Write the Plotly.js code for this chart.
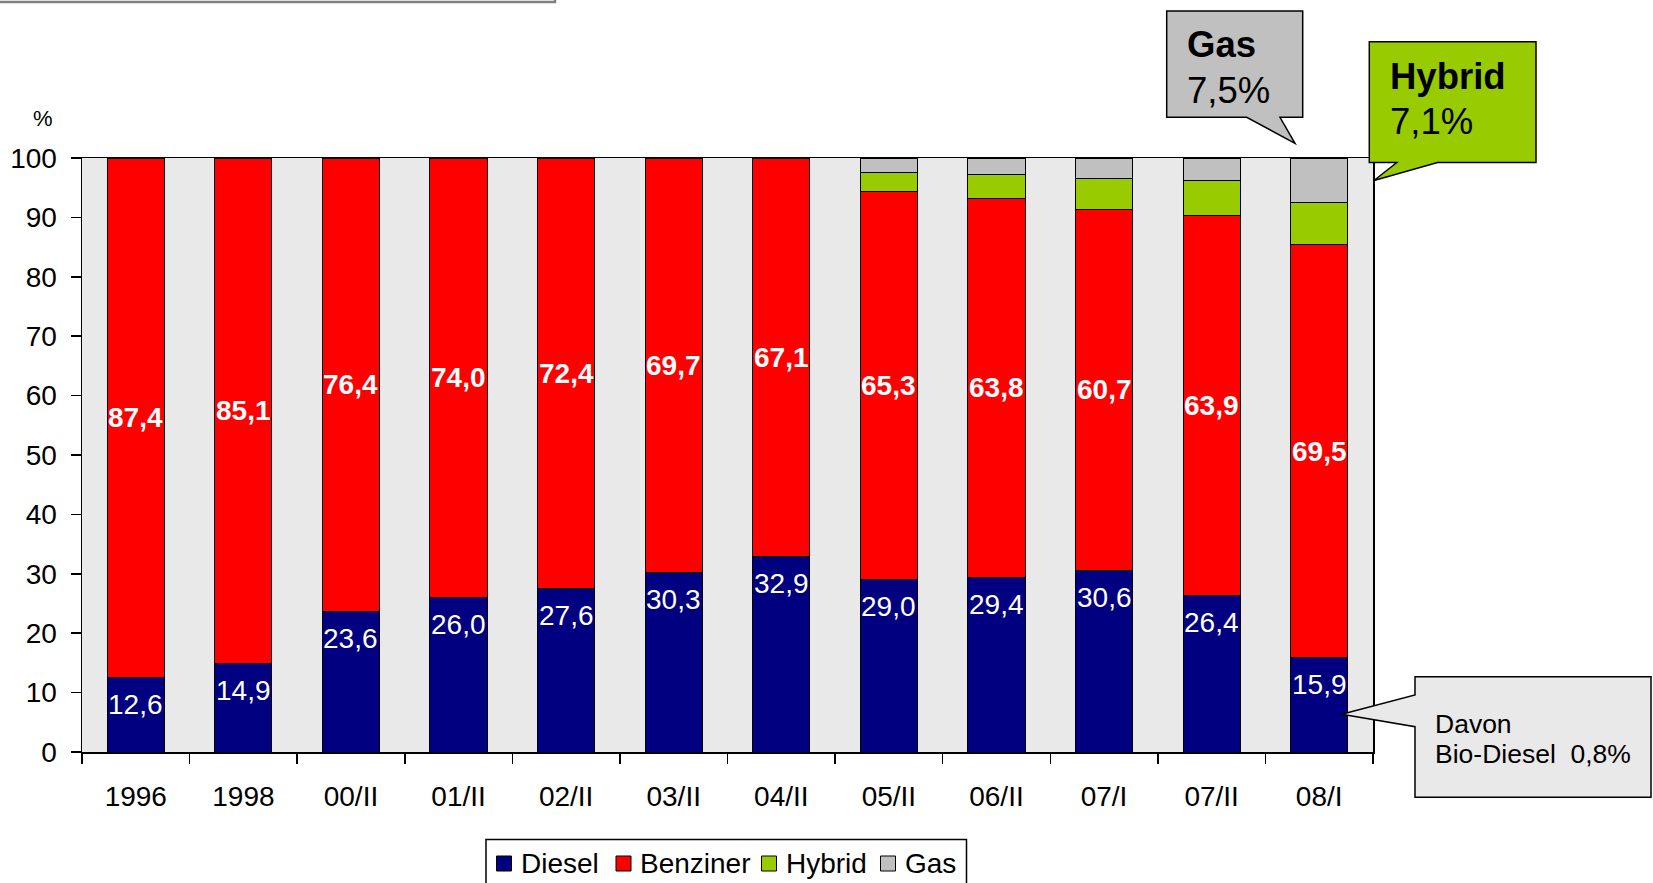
<!DOCTYPE html>
<html>
<head>
<meta charset="utf-8">
<script src="https://cdn.plot.ly/plotly-3.0.1.min.js"></script>
<style>
  html, body { margin: 0; padding: 0; background: #fff; }
  #chart { width: 1653px; height: 883px; }
</style>
</head>
<body>
<div id="chart"></div>
<script>
// ---- data ----
const categories = ['1996', '1998', '00/II', '01/II', '02/II', '03/II', '04/II', '05/II', '06/II', '07/I', '07/II', '08/I'];
const diesel   = [12.6, 14.9, 23.6, 26.0, 27.6, 30.3, 32.9, 29.0, 29.4, 30.6, 26.4, 15.9];
const benziner = [87.4, 85.1, 76.4, 74.0, 72.4, 69.7, 67.1, 65.3, 63.8, 60.7, 63.9, 69.5];
const hybrid   = [null, null, null, null, null, null, null, 3.2, 4.1, 5.3, 5.9, 7.1];
const gas      = [null, null, null, null, null, null, null, 2.5, 2.7, 3.4, 3.8, 7.5];
const seriesNames = ['Diesel', 'Benziner', 'Hybrid', 'Gas'];
const yTicks = [0, 10, 20, 30, 40, 50, 60, 70, 80, 90, 100];

const gasCallout = {title: 'Gas', value: '7,5%'};
const hybridCallout = {title: 'Hybrid', value: '7,1%'};
const bioCallout = {line1: 'Davon', line2: 'Bio-Diesel  0,8%'};

// ---- styling ----
const FONT = '"Liberation Sans", Arial, Helvetica, sans-serif';
const colors = ['#000080', '#ff0000', '#99cc00', '#c0c0c0'];
const W = 1653, H = 883;
const L = 82, R = 1373, T = 158, B = 752;
const px = x => (x - L) / (R - L);
const py = y => (B - y) / (B - T);
const fmt = v => v.toFixed(1).replace('.', ',');

const seriesData = [diesel, benziner, hybrid, gas];
const traces = seriesData.map((vals, i) => ({
  type: 'bar',
  name: seriesNames[i],
  x: categories,
  y: vals,
  marker: {color: colors[i], line: {color: '#000', width: 1}},
  hoverinfo: 'x+y+name'
}));

const annotations = [];
// value labels (category index used as x to avoid numeric-looking category names)
categories.forEach((c, i) => {
  annotations.push({
    x: i, y: diesel[i], xref: 'x', yref: 'y',
    text: fmt(diesel[i]), showarrow: false,
    xanchor: 'center', yanchor: 'middle', yshift: -27,
    font: {family: FONT, size: 28, color: '#fff'}
  });
  annotations.push({
    x: i, y: diesel[i] + benziner[i] / 2, xref: 'x', yref: 'y',
    text: '<b>' + fmt(benziner[i]) + '</b>', showarrow: false,
    xanchor: 'center', yanchor: 'middle',
    font: {family: FONT, size: 28, color: '#fff'}
  });
});

// % label
annotations.push({
  xref: 'paper', yref: 'paper', x: px(43), y: py(119),
  text: '%', showarrow: false, xanchor: 'center', yanchor: 'middle',
  font: {family: FONT, size: 22, color: '#000'}
});

function txt(x, y, text, size, bold) {
  annotations.push({
    xref: 'paper', yref: 'paper', x: px(x), y: py(y),
    text: bold ? '<b>' + text + '</b>' : text,
    showarrow: false, xanchor: 'left', yanchor: 'middle',
    font: {family: FONT, size: size, color: '#000'}
  });
}
txt(1185, 45, gasCallout.title, 36.5, true);
txt(1185, 91, gasCallout.value, 36.5, false);
txt(1388, 76, hybridCallout.title, 36.5, true);
txt(1388, 121, hybridCallout.value, 36.5, false);
txt(1433, 724, bioCallout.line1, 26.5, false);
txt(1433, 754, bioCallout.line2, 26.5, false);

function pathFrom(points) {
  return 'M ' + points.map(p => px(p[0]).toFixed(5) + ',' + py(p[1]).toFixed(5)).join(' L ') + ' Z';
}

const shapes = [
  // cut-off box at the very top left
  {type: 'path', xref: 'paper', yref: 'paper',
   path: pathFrom([[-10, -20], [555, -20], [555, 2], [-10, 2]]),
   line: {color: '#808080', width: 2.5}, fillcolor: 'rgba(0,0,0,0)'},
  // gas callout
  {type: 'path', xref: 'paper', yref: 'paper',
   path: pathFrom([[1166.7, 11], [1302.7, 11], [1302.7, 117.3], [1280, 117.3], [1295, 143.3], [1246.7, 117.3], [1166.7, 117.3]]),
   line: {color: '#000', width: 1.5}, fillcolor: '#c0c0c0'},
  // hybrid callout
  {type: 'path', xref: 'paper', yref: 'paper',
   path: pathFrom([[1369.3, 41.7], [1536, 41.7], [1536, 162.5], [1437.5, 162.5], [1374, 180.5], [1396.8, 162.5], [1369.3, 162.5]]),
   line: {color: '#000', width: 1.5}, fillcolor: '#99cc00'},
  // bio-diesel callout
  {type: 'path', xref: 'paper', yref: 'paper',
   path: pathFrom([[1415, 676.7], [1651, 676.7], [1651, 797.3], [1415, 797.3], [1415, 726.7], [1341.7, 714.3], [1415, 695]]),
   line: {color: '#000', width: 1.5}, fillcolor: '#e9e9e9'},
  // legend frame (bottom is cut off by the page edge)
  {type: 'rect', xref: 'paper', yref: 'paper',
   x0: px(486), x1: px(966.5), y0: py(839.5), y1: py(900),
   line: {color: '#000', width: 1.5}, fillcolor: '#fff'}
];

// legend entries built from the series names and colours
const legendSwatchX = [496.5, 616, 761.5, 880.5];
seriesNames.forEach((name, i) => {
  shapes.push({type: 'rect', xref: 'paper', yref: 'paper',
    x0: px(legendSwatchX[i]), x1: px(legendSwatchX[i] + 15),
    y0: py(856), y1: py(871),
    line: {color: '#000', width: 1}, fillcolor: colors[i]});
  annotations.push({
    xref: 'paper', yref: 'paper', x: px(legendSwatchX[i] + 22), y: py(863),
    text: name, showarrow: false, xanchor: 'left', yanchor: 'middle',
    font: {family: FONT, size: 28, color: '#000'}
  });
});

const layout = {
  width: W, height: H,
  margin: {l: L, r: W - R, t: T, b: H - B, pad: 0},
  paper_bgcolor: '#fff',
  plot_bgcolor: '#e9e9e9',
  barmode: 'stack',
  bargap: 0.468,
  font: {family: FONT, size: 28, color: '#000'},
  showlegend: false,
  xaxis: {
    type: 'category',
    range: [-0.5, categories.length - 0.5],
    automargin: false,
    showline: true, linecolor: '#000', linewidth: 1.5, mirror: true,
    ticks: 'outside', ticklen: 10, tickwidth: 1.5, tickcolor: '#000',
    tickson: 'boundaries',
    tickangle: 0,
    showgrid: false, zeroline: false,
    ticklabelstandoff: 19,
    tickfont: {family: FONT, size: 28, color: '#000'},
    fixedrange: true
  },
  yaxis: {
    range: [0, 100],
    automargin: false,
    tickmode: 'array',
    tickvals: yTicks,
    ticktext: yTicks.map(String),
    showline: true, linecolor: '#000', linewidth: 1.5, mirror: true,
    ticks: 'outside', ticklen: 10, tickwidth: 1.5, tickcolor: '#000',
    showgrid: false, zeroline: false,
    ticklabelstandoff: 8,
    tickfont: {family: FONT, size: 28, color: '#000'},
    fixedrange: true
  },
  annotations: annotations,
  shapes: shapes
};

Plotly.newPlot('chart', traces, layout, {displayModeBar: false, staticPlot: true});
</script>
</body>
</html>
